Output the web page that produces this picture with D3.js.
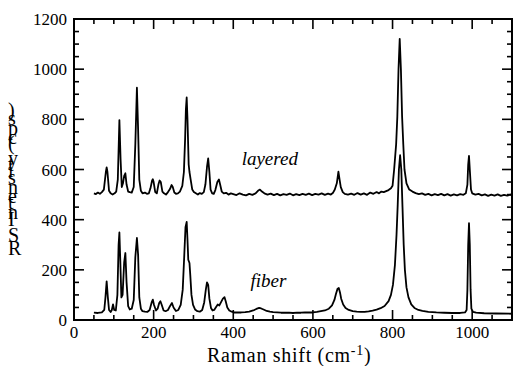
<!DOCTYPE html>
<html>
<head>
<meta charset="utf-8">
<script src="https://cdn.jsdelivr.net/npm/d3@7"></script>
<style>
    body { margin: 0; background: #fff; }
    svg { font-family: "Liberation Serif", "Times New Roman", serif; }
</style>
</head>
<body>
<div id="chart"></div>
<script>
// spectra (Raman shift in cm-1, intensity in cps)
const layeredShift = [50,55,60,65,70,75,80,82,84,88,92,97,102,106,110,114,117,120,123,126,129,132,136,140,145,150,154,158,161,164,168,172,178,183,188,192,196,198,200,204,208,212,215,218,222,226,231,236,241,245,248,252,256,261,266,272,276,279,281,283,285,288,290,293,297,301,306,311,316,321,326,330,334,337,340,343,347,351,355,360,364,367,371,376,382,388,394,400,408,416,424,432,440,448,456,462,467,472,478,486,494,502,510,518,526,534,542,550,558,566,574,582,590,598,606,614,622,630,638,645,650,655,660,664,667,670,675,680,688,696,704,712,720,728,736,744,752,760,766,772,778,784,790,796,800,804,809,812,815,818,821,824,827,830,835,842,850,858,866,874,882,890,898,906,914,922,930,938,946,954,962,970,978,984,988,990,992,994,997,1000,1008,1016,1024,1032,1040,1048,1056,1064,1072,1080,1088,1096,1100];
const layeredCps = [505,502,508,503,510,520,590,608,590,515,505,500,505,512,560,797,640,530,545,575,585,540,512,510,508,530,700,926,760,560,515,505,508,503,505,525,555,561,550,510,505,540,556,550,512,505,500,510,522,538,530,508,503,505,512,535,590,720,840,887,800,620,590,560,520,510,505,500,506,503,510,540,610,644,590,520,505,503,518,550,560,540,512,505,507,500,505,502,498,505,500,497,503,499,505,515,520,512,505,500,504,498,503,497,502,499,504,497,502,498,503,499,504,498,503,500,505,499,504,500,506,520,545,591,560,530,510,503,500,504,499,506,500,505,499,508,503,510,505,512,510,514,518,525,535,600,700,810,1000,1121,1000,810,700,600,545,520,512,506,502,505,499,503,497,502,498,503,497,502,496,501,497,502,499,505,540,620,654,600,520,505,500,503,497,501,495,500,496,501,495,499,496,500,497];

const fiberShift = [50,60,70,76,79,82,85,88,92,95,98,101,105,109,112,114,116,119,122,126,129,132,136,140,145,150,154,158,161,164,168,172,178,184,190,195,198,201,206,210,214,217,220,225,230,236,241,246,250,256,262,268,273,277,280,283,285,287,290,292,295,299,304,310,316,322,327,331,334,337,340,344,348,352,356,361,365,369,374,378,381,385,390,396,402,410,420,430,440,450,458,465,470,476,484,492,500,510,520,530,540,550,560,570,580,590,600,610,620,630,640,648,654,658,662,665,668,671,676,682,690,700,710,720,730,740,750,760,770,780,790,796,801,806,810,813,816,819,822,825,828,831,835,840,847,855,865,875,890,910,930,950,970,982,986,988,990,992,994,996,998,1002,1010,1030,1060,1100];
const fiberCps = [29,28,30,40,90,154,90,40,32,40,62,40,38,100,300,349,250,90,100,230,267,150,55,42,45,80,250,327,260,90,45,35,33,32,40,70,81,60,38,45,68,75,62,38,35,40,55,68,50,36,40,60,120,260,370,391,320,240,227,180,100,60,42,35,33,40,70,120,150,140,85,48,38,40,50,62,58,70,85,91,75,50,38,33,30,30,30,31,33,38,44,48,46,42,36,33,31,30,29,29,29,28,29,29,30,30,30,32,35,38,45,58,80,105,125,128,110,85,62,48,40,35,33,32,32,34,37,41,47,56,75,100,140,220,340,460,600,657,600,450,300,200,130,90,62,48,40,36,32,30,29,28,28,30,40,120,300,386,300,120,45,32,29,27,26,25];

const seriesLabels = ["layered", "fiber"];
const labelShift = [421, 443];
const labelCps = [618, 133];

const xTicks = [0, 200, 400, 600, 800, 1000];
const yTicks = [0, 200, 400, 600, 800, 1000, 1200];

const width = 514, height = 366;
const margin = { left: 74, right: 2, top: 19, bottom: 46 };

const svg = d3.select("#chart")
    .append("svg")
    .attr("width", width)
    .attr("height", height);

const x = d3.scaleLinear()
    .domain([0, 1100])
    .range([margin.left, width - margin.right]);

const y = d3.scaleLinear()
    .domain([0, 1200])
    .range([height - margin.bottom, margin.top]);

const x0 = margin.left, x1 = width - margin.right;
const y0 = height - margin.bottom, y1 = margin.top;

// spectra
const line = d3.line()
    .x(d => x(d[0]))
    .y(d => y(d[1]));

svg.append("path")
    .datum(layeredShift.map((v, i) => [v, layeredCps[i]]))
    .attr("d", line)
    .attr("fill", "none")
    .attr("stroke", "#000")
    .attr("stroke-width", 1.8)
    .attr("stroke-linejoin", "round");

svg.append("path")
    .datum(fiberShift.map((v, i) => [v, fiberCps[i]]))
    .attr("d", line)
    .attr("fill", "none")
    .attr("stroke", "#000")
    .attr("stroke-width", 1.8)
    .attr("stroke-linejoin", "round");

// ticks on all four sides, pointing inward
const xMinor = d3.range(0, 1101, 50);
const yMinor = d3.range(0, 1201, 50);

function tickLen(v) { return v % 200 === 0 ? 10 : 5; }

const ticks = svg.append("g").attr("stroke", "#000").attr("stroke-width", 1.6);

xMinor.forEach(v => {
    ticks.append("line").attr("x1", x(v)).attr("x2", x(v)).attr("y1", y0).attr("y2", y0 - tickLen(v));
    ticks.append("line").attr("x1", x(v)).attr("x2", x(v)).attr("y1", y1).attr("y2", y1 + tickLen(v));
});
yMinor.forEach(v => {
    ticks.append("line").attr("y1", y(v)).attr("y2", y(v)).attr("x1", x0).attr("x2", x0 + tickLen(v));
    ticks.append("line").attr("y1", y(v)).attr("y2", y(v)).attr("x1", x1).attr("x2", x1 - tickLen(v));
});

svg.append("rect")
    .attr("x", x0).attr("y", y1)
    .attr("width", x1 - x0).attr("height", y0 - y1)
    .attr("fill", "none")
    .attr("stroke", "#000")
    .attr("stroke-width", 2);

// tick labels
svg.append("g")
    .selectAll("text")
    .data(xTicks)
    .enter()
    .append("text")
    .attr("x", d => x(d))
    .attr("y", y0 + 18)
    .attr("text-anchor", "middle")
    .style("font-size", "17px")
    .text(d => d);

svg.append("g")
    .selectAll("text")
    .data(yTicks)
    .enter()
    .append("text")
    .attr("x", x0 - 7)
    .attr("y", d => y(d) + 6)
    .attr("text-anchor", "end")
    .style("font-size", "17px")
    .text(d => d);

// axis titles
const xt = svg.append("text")
    .attr("x", 207)
    .attr("y", 362)
    .style("font-size", "20px")
    .style("letter-spacing", "0.7px");
xt.append("tspan").text("Raman shift (cm");
xt.append("tspan").attr("dy", -7).style("font-size", "14px").text("-1");
xt.append("tspan").attr("dy", 7).text(")");

// y title: glyphs stay upright while running up the page
svg.append("text")
    .attr("transform", "translate(8,255) rotate(-90)")
    .attr("rotate", 90)
    .style("font-size", "20px")
    .text("RS Intensity (cps)");

// series labels
svg.append("g")
    .selectAll("text")
    .data(seriesLabels)
    .enter()
    .append("text")
    .attr("x", (d, i) => x(labelShift[i]))
    .attr("y", (d, i) => y(labelCps[i]))
    .style("font-size", "19px")
    .style("font-style", "italic")
    .text(d => d);
</script>
</body>
</html>
